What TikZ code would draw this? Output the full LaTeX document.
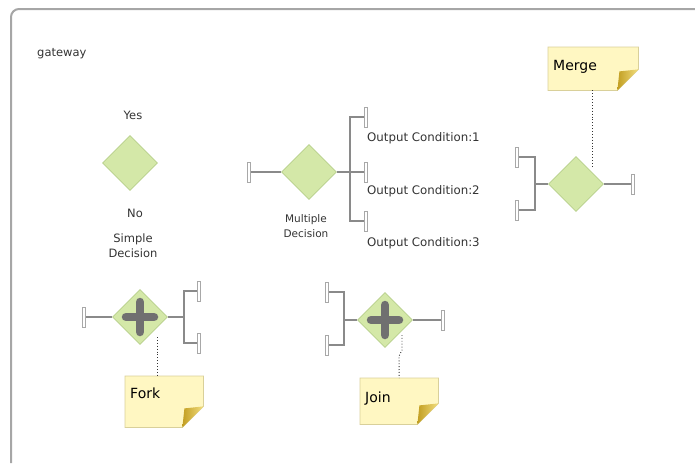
\documentclass[tikz,border=0pt]{standalone}
\usepackage{fontspec}
\setmainfont{DejaVu Sans}
\usetikzlibrary{shapes.geometric,backgrounds,calc}
\definecolor{gwfill}{HTML}{D4E8A8}
\definecolor{gwdraw}{HTML}{B6CF8A}
\definecolor{conncol}{HTML}{8A8A8A}
\definecolor{portc}{HTML}{A8A8A8}
\definecolor{notefill}{HTML}{FFF7C2}
\definecolor{notedraw}{HTML}{D9D09A}
\definecolor{foldlight}{HTML}{F2DE7E}
\definecolor{folddark}{HTML}{C29E22}
\definecolor{framec}{HTML}{A6A6A6}
\definecolor{txt}{HTML}{333333}
\definecolor{plusc}{HTML}{707070}
\begin{document}
\begin{tikzpicture}[x=1pt,y=-1pt,
  gw/.style={diamond, minimum size=55pt, inner sep=0pt, fill=gwfill, draw=gwdraw, line width=0.8pt},
  plusgw/.style={gw, path picture={
    \draw[plusc, line width=8.5pt, line cap=round]
      ([xshift=-14pt]path picture bounding box.center) -- ([xshift=14pt]path picture bounding box.center);
    \draw[plusc, line width=8.5pt, line cap=round]
      ([yshift=-15pt]path picture bounding box.center) -- ([yshift=15pt]path picture bounding box.center);}},
  port/.style={draw=portc, fill=white, line width=0.7pt, minimum width=3.5pt, minimum height=20pt, inner sep=0pt},
  conn/.style={draw=conncol, line width=2.2pt},
  lbl/.style={text=txt, font=\fontsize{11.5}{15}\selectfont, inner sep=0pt, align=center},
  outlbl/.style={text=txt, font=\fontsize{11.8}{14}\selectfont, inner sep=0pt, anchor=west},
  note/.style={anchor=north west, inner xsep=5pt, inner ysep=0pt, align=left, text=black, font=\fontsize{14}{16}\selectfont},
  dotc/.style={draw=black!80, dotted, line width=0.9pt}
]
\useasboundingbox (0,0) rectangle (695,463);
% frame
\draw[framec, line width=2pt, rounded corners=8pt] (11,463) -- (11,9) -- (695,9);

\node[lbl, anchor=west] (gwtitle) at (37,54) {gateway};

% simple decision
\node[gw] (sd) at (130,163) {};
\node[lbl] (yes) at (133,115) {Yes};
\node[lbl] (no) at (135,213) {No};
\node[lbl] (sdname) at (133,246) {Simple\\Decision};

% multiple decision
\node[gw] (md) at (309,172) {};
\node[port] (mdin) at (249,172) {};
\node[port] (mdo1) at (366,117) {};
\node[port] (mdo2) at (366,172) {};
\node[port] (mdo3) at (366,221) {};
\coordinate (mdj) at (350,172);
\begin{scope}[on background layer]
\draw[conn] (mdin.east) -- (md.west);
\draw[conn] (md.east) -- (mdo2.west);
\draw[conn] (mdo1.west) -| (mdj) |- (mdo3.west);
\end{scope}
\node[lbl, font=\fontsize{10.5}{15}\selectfont] (mdname) at (306,226) {Multiple\\Decision};
\node[outlbl] (oc1) at (367,138) {Output Condition:1};
\node[outlbl] (oc2) at (367,191) {Output Condition:2};
\node[outlbl] (oc3) at (367,243) {Output Condition:3};

% merge
\node[gw] (mg) at (576,184) {};
\node[port] (mgi1) at (517,157) {};
\node[port] (mgi2) at (517,210) {};
\node[port] (mgout) at (633,184) {};
\coordinate (mgj) at (535,184);
\begin{scope}[on background layer]
\draw[conn] (mgi1.east) -| (mgj) |- (mgi2.east);
\draw[conn] (mgj) -- (mg.west);
\draw[conn] (mg.east) -- (mgout.west);
\end{scope}
\node[note, text width=80pt, minimum height=43pt, text depth=7pt] (mnote) at (548,47) {Merge};
\coordinate (mgdot) at (592,167);
\draw[dotc] (mnote.south -| mgdot) -- (mgdot);

% fork
\node[plusgw] (fk) at (140,317) {};
\node[port] (fkin) at (84,317) {};
\node[port] (fko1) at (199,291) {};
\node[port] (fko2) at (199,343) {};
\coordinate (fkj) at (184,317);
\begin{scope}[on background layer]
\draw[conn] (fkin.east) -- (fk.west);
\draw[conn] (fk.east) -- (fkj);
\draw[conn] (fko1.west) -| (fkj) |- (fko2.west);
\end{scope}
\node[note, text width=68pt, minimum height=51pt, text depth=17pt] (fnote) at (125,376) {Fork};
\coordinate (fkdot) at (157,337);
\draw[dotc] (fkdot) -- (fkdot |- fnote.north);

% join
\node[plusgw] (jn) at (385,320) {};
\node[port] (jni1) at (327,292) {};
\node[port] (jni2) at (327,345) {};
\node[port] (jnout) at (443,320) {};
\coordinate (jnj) at (344,320);
\begin{scope}[on background layer]
\draw[conn] (jni1.east) -| (jnj) |- (jni2.east);
\draw[conn] (jnj) -- (jn.west);
\draw[conn] (jn.east) -- (jnout.west);
\end{scope}
\node[note, text width=68pt, minimum height=46pt, text depth=8pt] (jnote) at (360,378) {Join};
\coordinate (jndot) at (402,335);
\draw[dotc] (jndot) -- ++(0,15) -- ++(-3,6) -- (jnote.north);

% note shapes
\begin{scope}[on background layer]
\foreach \n in {mnote,fnote,jnote} {
  \filldraw[fill=notefill, draw=notedraw, line width=0.8pt]
    (\n.north west) -- (\n.north east) -- ([yshift=21pt]\n.south east)
    -- ([xshift=-21pt]\n.south east) -- (\n.south west) -- cycle;
  \shade[left color=folddark, right color=foldlight]
    ([yshift=21pt]\n.south east) -- ([xshift=-21pt]\n.south east)
    -- ([xshift=-19pt,yshift=19pt]\n.south east) -- cycle;
}
\end{scope}
\end{tikzpicture}
\end{document}
